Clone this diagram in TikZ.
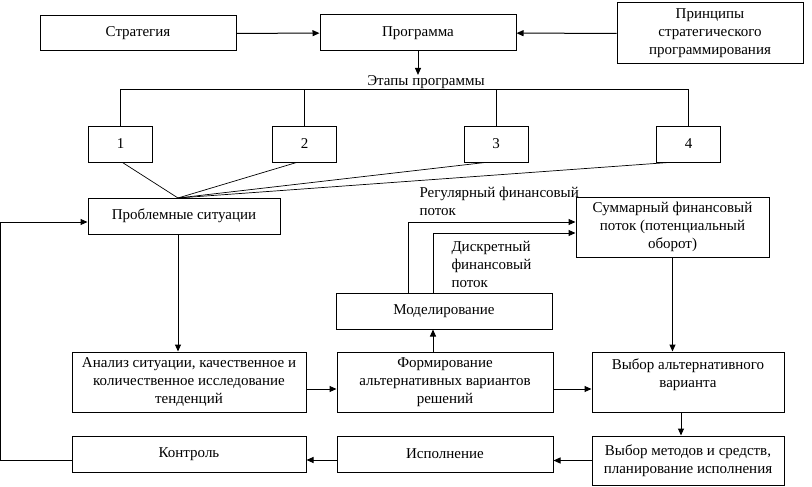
\documentclass[tikz,border=0pt]{standalone}
\usepackage{fontspec}
\setmainfont{Liberation Serif}
\usetikzlibrary{arrows.meta,positioning,calc}

\begin{document}
\begin{tikzpicture}[x=1pt,y=-1pt,line width=1pt,
  box/.style={draw,inner sep=0pt,align=center,font=\fontsize{15}{18}\selectfont},
  lbl/.style={inner sep=0pt,align=left,font=\fontsize{15}{18}\selectfont},
  >={Triangle[length=7pt,width=6pt]}]
\useasboundingbox (0,0) rectangle (812,487);
\node[box,minimum width=196,minimum height=35] (strat) at (138,33.5) {Стратегия};
\node[box,minimum width=196,minimum height=36] (prog) at (418,33) {Программа};
\node[box,minimum width=186,minimum height=61] (princ) at (710,33.5) {Принципы\\стратегического\\программирования};
\node[lbl] (stages) at (426,82) {Этапы программы};
\foreach \i/\x in {1/120.5,2/304.5,3/496,4/688.5}
  \node[box,minimum width=64,minimum height=36] (s\i) at (\x,144) {\i};
\node[box,minimum width=192,minimum height=36] (prob) at (184,216) {Проблемные ситуации};
\node[box,minimum width=193,minimum height=60] (sum) at (672.5,227) {Суммарный финансовый\\поток (потенциальный\\оборот)};
\node[box,minimum width=216,minimum height=36] (model) at (444,311) {Моделирование};
\node[box,minimum width=234,minimum height=60] (an) at (189,382) {Анализ ситуации, качественное и\\количественное исследование\\тенденций};
\node[box,minimum width=216,minimum height=60] (form) at (445,382) {Формирование\\альтернативных вариантов\\решений};
\node[box,minimum width=192,minimum height=60] (alt) at (688,382) {Выбор альтернативного\\варианта\\~};
\node[box,minimum width=192,minimum height=49] (meth) at (688,460.5) {Выбор методов и средств,\\планирование исполнения};
\node[box,minimum width=216,minimum height=36] (exec) at (445,454) {Исполнение};
\node[box,minimum width=234,minimum height=36] (ctrl) at (189,454) {Контроль};
\node[lbl,anchor=north west] (reg) at (419,187) {Регулярный финансовый\\поток};
\node[lbl,anchor=north west] (disc) at (451,241) {Дискретный\\финансовый\\поток};
\coordinate (bar) at (0,90);
\coordinate (meet) at (178,198);
\path[->]
(strat) edge (prog)
(princ) edge (prog)
(prog.south) edge (prog.south |- stages.north);
\draw (s1.north) |- (bar -| s4.north) -- (s4.north);
\foreach \i in {2,3}
  \draw (s\i.north) -- (s\i.north |- bar);
\foreach \i/\d in {1/2,2/-8,3/-11,4/-20}
  \draw[line width=0.7pt] ([xshift=\d pt]s\i.south) -- (meet);
\path[->]
([xshift=-6pt]prob.south) edge ([xshift=-6pt]prob.south |- an.north)
([yshift=-7pt]an.east) edge ([yshift=-7pt]an.east -| form.west)
([yshift=-7pt]form.east) edge ([yshift=-7pt]form.east -| alt.west)
([xshift=-12pt]form.north) edge ([xshift=-12pt]form.north |- model.south)
(sum.south) edge (sum.south |- alt.north)
([xshift=-7pt]alt.south) edge ([xshift=-7pt]alt.south |- meth.north)
(meth.west) edge (meth.west -| exec.east)
([yshift=-6pt]exec.west) edge ([yshift=-6pt]exec.west -| ctrl.east);
\draw[->] ([xshift=-36pt]model.north) |- ([yshift=5pt]sum.west);
\draw[->] ([xshift=-11pt]model.north) |- ([yshift=-6pt]sum.west);
\draw[->] ([yshift=-6pt]ctrl.west) -- ++(-71,0) |- ([yshift=-6pt]prob.west);
\end{tikzpicture}
\end{document}
